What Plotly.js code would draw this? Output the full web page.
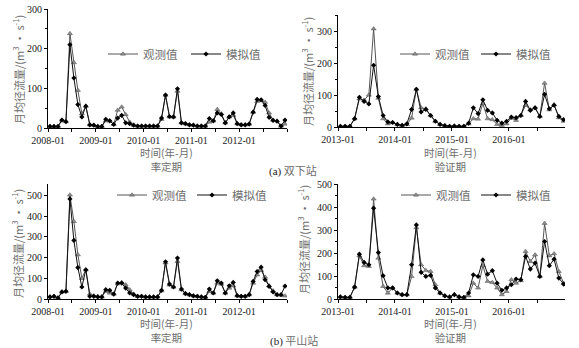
<!DOCTYPE html>
<html><head><meta charset="utf-8">
<script src="https://cdn.plot.ly/plotly-3.0.1.min.js"></script>
<style>html,body{margin:0;padding:0;background:#fff}#chart{width:579px;height:348px}</style>
</head><body><div id="chart"></div>
<script>
// month categories
function monthsFrom(y0, nYears){const a=[];for(let y=y0;y<y0+nYears;y++){for(let m=1;m<=12;m++){a.push(y+'-'+(m<10?'0':'')+m);}}return a;}
const calMonths = monthsFrom(2008, 5);   // 2008-01 .. 2012-12 (率定期)
const valMonths = monthsFrom(2013, 4);   // 2013-01 .. 2016-12 (验证期)
const calTicks = ['2008-01','2009-01','2010-01','2011-01','2012-01'];
const valTicks = ['2013-01','2014-01','2015-01','2016-01'];

// 双下站 率定期
const sxCalObs = [4,4,4,20,16,238,165,95,36,55,8,7, 4,4,18,18,9,45,53,34,15,7,5,5, 5,5,5,5,22,83,28,28,93,13,11,8, 7,5,5,5,15,18,47,36,13,28,32,11, 8,8,10,40,67,70,65,38,20,18,5,10];
const sxCalSim = [4,4,4,20,16,210,126,59,28,55,8,7, 4,4,22,18,9,25,32,13,11,7,5,5, 5,5,5,5,25,83,29,28,99,13,11,8, 7,5,5,5,24,18,38,34,13,28,38,11, 8,8,10,40,72,71,57,27,19,17,5,20];
// 双下站 验证期
const sxValObs = [2,2,2,26,88,84,100,307,90,26,10,14, 8,5,8,28,118,60,57,36,18,8,4,2, 3,2,2,10,26,25,73,26,23,8,5,10, 28,21,36,68,54,60,33,137,54,70,29,18];
const sxValSim = [2,2,2,26,93,80,72,193,95,36,16,14, 8,5,10,55,118,47,55,36,18,8,4,2, 3,2,2,12,60,42,85,52,44,21,12,18, 31,29,36,80,52,60,33,102,57,68,33,23];
// 平山站 率定期
const psCalObs = [10,13,5,34,37,503,375,214,100,141,24,16, 13,10,37,29,24,74,80,69,45,24,13,13, 10,10,10,10,40,175,68,58,182,45,26,21, 15,13,10,8,37,29,77,72,29,53,64,16, 13,13,21,77,117,138,106,64,40,21,19,15];
const psCalSim = [10,13,5,34,37,484,283,152,58,141,13,13, 10,10,45,42,24,77,77,53,29,21,13,13, 10,10,10,10,42,180,72,58,198,48,26,21, 15,13,10,8,48,29,88,77,29,64,80,16, 13,13,21,85,133,154,93,61,34,21,21,62];
// 平山站 验证期
const psValObs = [9,7,7,52,188,145,142,435,178,55,26,48, 26,19,19,98,310,149,124,120,62,26,14,9, 19,9,7,14,69,48,145,77,72,48,19,33, 84,69,80,207,163,192,98,329,188,197,120,69];
const psValSim = [9,7,7,52,195,159,149,395,202,101,48,48, 26,19,19,149,322,116,98,103,48,26,14,9, 19,9,7,26,105,98,170,108,123,69,38,48, 62,87,84,185,130,156,98,250,145,173,91,65];

const W = 579, H = 348;
const px = v => v / W, py = v => 1 - v / H;
const cjk = '"Noto Sans CJK SC", "Noto Sans", sans-serif';
const serif = '"Liberation Serif", "Times New Roman", serif';
const grey = '#6e6e6e';

function obsTrace(months, y, xa, ya, lg){
  return {x: months.map((_, i) => i), y: y, xaxis: xa, yaxis: ya, legend: lg, name: '观测值',
    mode: 'lines+markers', type: 'scatter', hoverinfo: 'skip',
    line: {color: '#555', width: 1},
    marker: {symbol: 'triangle-up', size: 4.5, color: '#8c8c8c', line: {color: '#555', width: 0.5}}};
}
function simTrace(months, y, xa, ya, lg){
  return {x: months.map((_, i) => i), y: y, xaxis: xa, yaxis: ya, legend: lg, name: '模拟值',
    mode: 'lines+markers', type: 'scatter', hoverinfo: 'skip',
    line: {color: '#111', width: 1},
    marker: {symbol: 'diamond', size: 4, color: '#000'}};
}

const data = [
  obsTrace(calMonths, sxCalObs, 'x', 'y', 'legend'),
  simTrace(calMonths, sxCalSim, 'x', 'y', 'legend'),
  obsTrace(valMonths, sxValObs, 'x2', 'y2', 'legend2'),
  simTrace(valMonths, sxValSim, 'x2', 'y2', 'legend2'),
  obsTrace(calMonths, psCalObs, 'x3', 'y3', 'legend3'),
  simTrace(calMonths, psCalSim, 'x3', 'y3', 'legend3'),
  obsTrace(valMonths, psValObs, 'x4', 'y4', 'legend4'),
  simTrace(valMonths, psValSim, 'x4', 'y4', 'legend4')
];

const tickFont = {family: serif, size: 10, color: '#222'};
function xAxis(months, ticks, dom, anchor, rmax){
  return {domain: dom, anchor: anchor, range: [-0.5, rmax],
    tickmode: 'array', tickvals: ticks.map(t => months.indexOf(t) - 0.5), ticktext: ticks,
    ticks: 'outside', ticklen: 3, tickcolor: '#000', tickfont: tickFont,
    minor: {tick0: -0.5, dtick: 6, ticks: 'outside', ticklen: 3, tickcolor: '#000'},
    showline: true, linecolor: '#000', linewidth: 1, showgrid: false, zeroline: false, fixedrange: true};
}
function yAxis(dom, anchor, rmax, tv, minor){
  const a = {domain: dom, anchor: anchor, range: [0, rmax], tickmode: 'array', tickvals: tv,
    ticks: 'outside', ticklen: 3, tickcolor: '#000', tickfont: tickFont,
    showline: true, linecolor: '#000', linewidth: 1, showgrid: false, zeroline: false, fixedrange: true};
  if (minor) a.minor = {dtick: minor, ticks: 'outside', ticklen: 2, tickcolor: '#000'};
  return a;
}
function legendAt(xpx, ypx, ew){
  return {x: px(xpx), y: py(ypx), xanchor: 'left', yanchor: 'middle', orientation: 'h',
    entrywidth: ew, bgcolor: 'rgba(0,0,0,0)', borderwidth: 0,
    font: {family: cjk, size: 11.5, color: grey}};
}

const yTitle = '月均径流量/(m<sup>3</sup> · s<sup>-1</sup>)';
function ann(text, xpx, ypx, opts){
  return Object.assign({text: text, x: px(xpx), y: py(ypx), xref: 'paper', yref: 'paper',
    showarrow: false, xanchor: 'center', yanchor: 'middle',
    font: {family: cjk, size: 11, color: grey}}, opts || {});
}
const xTitleCal = '时间(年-月)<br>率定期';
const xTitleVal = '时间(年-月)<br>验证期';
const small = {font: {family: cjk, size: 10.5, color: grey}};

const layout = {
  width: W, height: H, margin: {l: 0, r: 0, t: 0, b: 0},
  paper_bgcolor: '#fff', plot_bgcolor: 'rgba(0,0,0,0)', showlegend: true,
  xaxis: xAxis(calMonths, calTicks, [px(48), px(287)], 'y', 59.5),
  yaxis: yAxis([py(128), py(9)], 'x', 300, [0, 100, 200, 300], 50),
  xaxis2: xAxis(valMonths, valTicks, [px(338), px(565)], 'y2', 47.3),
  yaxis2: yAxis([py(127), py(15)], 'x2', 350, [0, 100, 200, 300], 50),
  xaxis3: xAxis(calMonths, calTicks, [px(48), px(287)], 'y3', 59.5),
  yaxis3: yAxis([py(299), py(184)], 'x3', 556, [0, 100, 200, 300, 400, 500], null),
  xaxis4: xAxis(valMonths, valTicks, [px(338), px(565)], 'y4', 47.3),
  yaxis4: yAxis([py(299), py(184)], 'x4', 500, [0, 100, 200, 300, 400, 500], 50),
  legend: legendAt(103, 54, 38),
  legend2: legendAt(395, 54, 36),
  legend3: legendAt(112, 195, 35),
  legend4: legendAt(396, 195, 35),
  annotations: [
    ann(yTitle, 18, 70, {textangle: -90}),
    ann(yTitle, 308, 72, {textangle: -90}),
    ann(yTitle, 17, 244, {textangle: -90}),
    ann(yTitle, 303, 240, {textangle: -90}),
    ann(xTitleCal, 166, 159, small),
    ann(xTitleVal, 450, 159, small),
    ann(xTitleCal, 166, 330, small),
    ann(xTitleVal, 450, 330, small),
    ann('<span style="font-family:Liberation Serif;color:#222">(a)</span> 双下站', 293, 170),
    ann('<span style="font-family:Liberation Serif;color:#222">(b)</span> 平山站', 294, 340)
  ]
};

Plotly.newPlot('chart', data, layout, {displayModeBar: false, staticPlot: true});
</script>
</body></html>
